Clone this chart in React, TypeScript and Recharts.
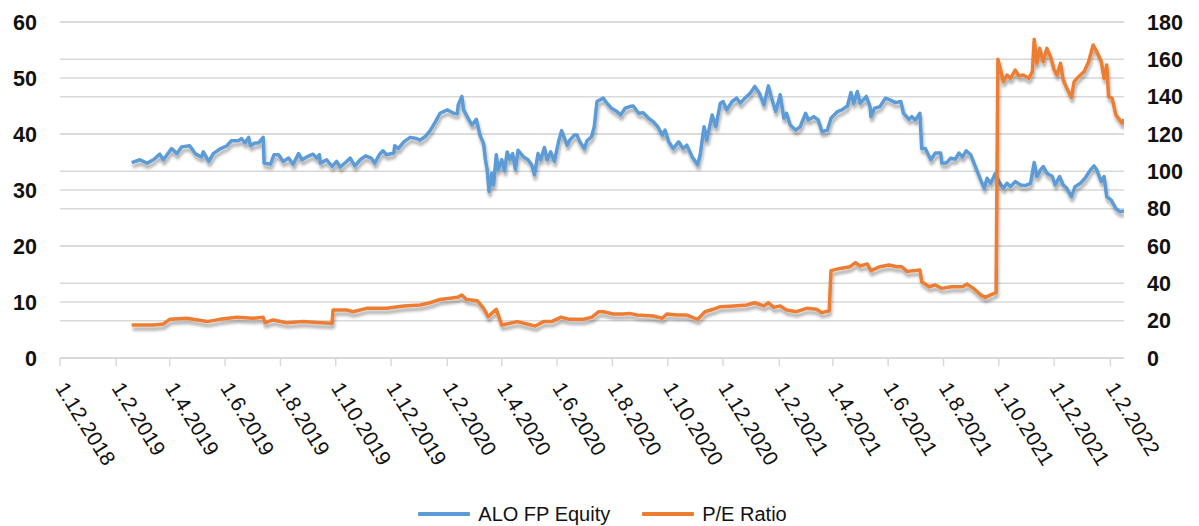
import React from 'react';
import { LineChart, Line, XAxis, YAxis, CartesianGrid, Legend } from 'recharts';

// X-axis tick labels (every second month)
const tickLabels = [
  '1.12.2018', '1.2.2019', '1.4.2019', '1.6.2019', '1.8.2019', '1.10.2019', '1.12.2019',
  '1.2.2020', '1.4.2020', '1.6.2020', '1.8.2020', '1.10.2020', '1.12.2020',
  '1.2.2021', '1.4.2021', '1.6.2021', '1.8.2021', '1.10.2021', '1.12.2021', '1.2.2022',
];
const leftTicks = [0, 10, 20, 30, 40, 50, 60];
const rightTicks = [0, 20, 40, 60, 80, 100, 120, 140, 160, 180];
const domainStart = '2018-12-01';
const domainEnd = '2022-02-16';

// ALO FP Equity (left axis)
const equityDates = [
  '2019-02-18','2019-02-27','2019-03-07','2019-03-14','2019-03-21','2019-03-25','2019-04-03','2019-04-09','2019-04-14','2019-04-23',
  '2019-04-29','2019-05-06','2019-05-08','2019-05-14','2019-05-19','2019-05-26','2019-06-03','2019-06-08','2019-06-16','2019-06-19',
  '2019-06-23','2019-06-27','2019-06-29','2019-07-04','2019-07-08','2019-07-13','2019-07-14','2019-07-21','2019-07-25','2019-07-30',
  '2019-08-04','2019-08-10','2019-08-15','2019-08-21','2019-08-25','2019-08-30','2019-09-06','2019-09-10','2019-09-13','2019-09-14',
  '2019-09-21','2019-09-27','2019-10-02','2019-10-06','2019-10-13','2019-10-17','2019-10-22','2019-10-28','2019-11-03','2019-11-09',
  '2019-11-13','2019-11-18','2019-11-22','2019-11-26','2019-12-04','2019-12-05','2019-12-09','2019-12-15','2019-12-22','2019-12-29',
  '2020-01-02','2020-01-08','2020-01-13','2020-01-19','2020-01-24','2020-02-01','2020-02-08','2020-02-12','2020-02-13','2020-02-17',
  '2020-02-19','2020-02-24','2020-02-28','2020-03-04','2020-03-08','2020-03-12','2020-03-14','2020-03-16','2020-03-18','2020-03-21',
  '2020-03-23','2020-03-26','2020-03-28','2020-04-01','2020-04-04','2020-04-07','2020-04-10','2020-04-13','2020-04-16','2020-04-19',
  '2020-04-25','2020-04-30','2020-05-04','2020-05-07','2020-05-11','2020-05-14','2020-05-18','2020-05-21','2020-05-25','2020-05-29',
  '2020-06-03','2020-06-06','2020-06-12','2020-06-15','2020-06-20','2020-06-23','2020-06-26','2020-07-01','2020-07-04','2020-07-09',
  '2020-07-12','2020-07-15','2020-07-22','2020-07-26','2020-07-31','2020-08-06','2020-08-10','2020-08-15','2020-08-20','2020-08-24',
  '2020-08-30','2020-09-04','2020-09-10','2020-09-15','2020-09-20','2020-09-25','2020-09-28','2020-10-02','2020-10-07','2020-10-13',
  '2020-10-18','2020-10-22','2020-10-28','2020-11-03','2020-11-06','2020-11-10','2020-11-13','2020-11-19','2020-11-23','2020-11-28',
  '2020-12-01','2020-12-05','2020-12-11','2020-12-16','2020-12-20','2020-12-25','2020-12-31','2021-01-05','2021-01-10','2021-01-15',
  '2021-01-20','2021-01-24','2021-01-28','2021-02-02','2021-02-06','2021-02-09','2021-02-13','2021-02-19','2021-02-24','2021-03-02',
  '2021-03-05','2021-03-11','2021-03-16','2021-03-20','2021-03-26','2021-03-30','2021-04-06','2021-04-11','2021-04-17','2021-04-21',
  '2021-04-24','2021-04-28','2021-05-01','2021-05-08','2021-05-12','2021-05-13','2021-05-17','2021-05-23','2021-05-29','2021-06-03',
  '2021-06-09','2021-06-15','2021-06-18','2021-06-24','2021-06-27','2021-07-01','2021-07-06','2021-07-08','2021-07-12','2021-07-18',
  '2021-07-23','2021-07-29','2021-07-30','2021-08-04','2021-08-09','2021-08-14','2021-08-18','2021-08-22','2021-08-26','2021-08-31',
  '2021-09-05','2021-09-11','2021-09-15','2021-09-18','2021-09-22','2021-09-27','2021-10-01','2021-10-06','2021-10-10','2021-10-14',
  '2021-10-19','2021-10-25','2021-10-30','2021-11-05','2021-11-09','2021-11-12','2021-11-16','2021-11-19','2021-11-23','2021-11-29',
  '2021-12-02','2021-12-07','2021-12-11','2021-12-15','2021-12-20','2021-12-24','2021-12-30','2022-01-04','2022-01-10','2022-01-14',
  '2022-01-17','2022-01-22','2022-01-25','2022-01-28','2022-02-02','2022-02-07','2022-02-12','2022-02-16',
];
const equityValues = [
  34.9,35.4,34.8,35.4,36.4,35.4,37.4,36.5,37.7,37.9,
  36.5,35.9,36.8,35.1,36.5,37.3,37.9,38.8,38.8,39.2,
  38.4,39.4,37.9,38.4,38.4,39.4,34.8,34.6,36.3,36.3,
  35.1,35.7,34.6,36.5,35.4,35.9,36.4,35.7,36.3,34.8,
  35.4,34.2,35.1,34.1,35.1,35.7,34.3,35.4,36.1,35.7,
  34.8,36.3,37.0,36.3,36.6,37.9,37.4,38.6,39.4,39.2,
  38.9,39.6,40.6,42.2,43.7,44.3,43.7,43.6,45.2,46.7,
  44.3,42.8,41.6,42.6,39.8,38.3,35.4,33.6,29.7,33.0,
  30.9,36.3,33.6,35.4,33.4,36.8,35.4,36.5,33.7,37.1,
  35.9,35.4,34.5,32.7,36.5,35.4,37.6,35.4,36.8,35.1,
  38.9,40.6,38.0,38.9,39.8,39.8,38.6,37.4,38.8,39.5,
  41.3,45.8,46.4,45.5,44.6,44.0,43.4,44.6,44.9,45.0,
  43.7,43.8,42.8,42.2,41.3,39.8,40.7,38.6,37.4,38.6,
  37.4,38.0,35.9,34.5,36.5,41.3,38.9,43.4,41.3,45.5,
  45.8,44.3,45.8,46.4,45.5,46.4,47.3,48.5,47.3,45.2,
  48.6,46.1,44.0,47.0,42.8,43.7,41.6,40.7,41.3,43.7,
  42.5,43.1,42.5,40.4,40.7,42.8,44.0,44.3,45.0,47.4,
  45.5,47.6,45.5,46.7,44.9,43.1,44.6,44.9,46.4,46.1,
  45.6,45.8,43.7,42.6,43.1,42.5,43.7,37.4,37.4,35.4,
  36.6,36.6,34.8,34.8,35.7,35.5,36.6,35.9,37.0,36.3,
  34.2,31.8,30.3,32.1,31.2,32.9,31.5,30.3,31.2,30.6,
  31.5,30.9,30.8,31.2,34.9,32.4,33.6,34.2,33.0,32.4,
  30.9,32.4,30.9,30.3,28.8,30.6,31.2,32.1,33.6,34.3,
  33.6,31.5,32.4,28.8,28.2,26.7,26.1,26.3,
];

// P/E Ratio (right axis)
const peDates = [
  '2019-02-18','2019-03-14','2019-03-25','2019-04-01','2019-04-20','2019-05-12','2019-05-26','2019-06-14','2019-07-02','2019-07-13',
  '2019-07-15','2019-07-24','2019-08-08','2019-08-26','2019-09-14','2019-09-27','2019-09-28','2019-10-13','2019-10-20','2019-11-04',
  '2019-11-18','2019-11-26','2019-12-15','2020-01-02','2020-01-13','2020-01-24','2020-02-04','2020-02-12','2020-02-17','2020-02-22',
  '2020-03-05','2020-03-12','2020-03-17','2020-03-21','2020-03-26','2020-03-30','2020-04-01','2020-04-10','2020-04-18','2020-04-29',
  '2020-05-08','2020-05-17','2020-05-26','2020-06-05','2020-06-15','2020-06-30','2020-07-09','2020-07-17','2020-07-22','2020-08-02',
  '2020-08-13','2020-08-20','2020-08-28','2020-09-15','2020-09-25','2020-09-30','2020-10-11','2020-10-22','2020-11-03','2020-11-11',
  '2020-11-20','2020-11-28','2020-12-13','2020-12-27','2021-01-05','2021-01-15','2021-01-20','2021-01-26','2021-02-02','2021-02-09',
  '2021-02-20','2021-03-03','2021-03-14','2021-03-20','2021-03-28','2021-03-30','2021-04-09','2021-04-20','2021-04-26','2021-05-01',
  '2021-05-09','2021-05-13','2021-05-23','2021-06-02','2021-06-11','2021-06-16','2021-06-22','2021-06-29','2021-07-06','2021-07-08',
  '2021-07-16','2021-07-23','2021-07-30','2021-08-10','2021-08-22','2021-08-27','2021-09-03','2021-09-11','2021-09-16','2021-09-22',
  '2021-09-28','2021-09-30','2021-10-03','2021-10-06','2021-10-10','2021-10-14','2021-10-19','2021-10-23','2021-10-28','2021-11-03',
  '2021-11-07','2021-11-09','2021-11-12','2021-11-15','2021-11-19','2021-11-23','2021-11-27','2021-12-01','2021-12-04','2021-12-08',
  '2021-12-11','2021-12-15','2021-12-20','2021-12-23','2021-12-28','2022-01-03','2022-01-08','2022-01-13','2022-01-17','2022-01-22',
  '2022-01-25','2022-01-28','2022-01-30','2022-02-03','2022-02-07','2022-02-10','2022-02-14','2022-02-16',
];
const peValues = [
  17.7,17.7,18.2,20.7,21.3,19.5,20.7,21.8,21.3,21.8,
  18.9,20.4,18.9,19.5,18.9,18.6,25.7,25.7,24.8,26.6,
  26.6,26.6,27.9,28.4,29.6,31.4,32.0,32.5,33.7,31.4,
  30.7,26.6,22.1,23.9,26.1,20.4,17.7,18.6,19.5,18.2,
  17.1,19.5,19.5,21.8,20.7,20.7,21.8,24.8,24.8,23.6,
  23.6,23.9,23.0,22.5,21.3,23.6,23.0,23.0,20.7,24.8,
  26.1,27.5,27.9,28.4,29.6,27.9,29.6,27.1,27.9,25.7,
  24.8,26.6,26.1,24.3,25.3,46.8,48.0,48.9,51.1,49.3,
  50.4,46.8,48.9,49.8,48.9,48.9,46.3,46.8,47.1,40.9,
  38.2,39.1,37.3,38.2,38.2,39.6,37.3,33.8,32.5,33.8,
  35.0,160.0,154.3,148.0,151.6,149.8,154.3,151.1,151.6,149.8,
  153.4,170.7,157.9,165.9,158.7,165.9,161.4,154.3,151.6,157.9,
  148.9,144.5,139.6,148.0,150.7,153.4,158.7,167.7,164.1,158.7,
  149.8,157.0,140.0,139.1,130.2,128.4,125.7,127.9,
];

const BLUE = '#5B9BD5';
const ORANGE = '#ED7D31';
const GRID = '#D9D9D9';
const FONT = '"Liberation Sans", Arial, sans-serif';

const equityData = equityDates.map((d, i) => ({ t: Date.parse(d), v: equityValues[i] }));
const peData = peDates.map((d, i) => ({ t: Date.parse(d), v: peValues[i] }));
const xTicks = tickLabels.map((s) => {
  const [d, m, y] = s.split('.').map(Number);
  return Date.UTC(y, m - 1, d);
});
const labelFor = (t: number) => tickLabels[xTicks.indexOf(t)] ?? '';

const XTick = (props: any) => {
  const { x, y, payload } = props;
  const ax = x + 1;
  const ay = y + 16;
  return (
    <text
      x={ax}
      y={ay}
      transform={`rotate(58, ${ax}, ${ay})`}
      textAnchor="start"
      dominantBaseline="central"
      fontFamily={FONT}
      fontSize={21}
      fill="#111"
    >
      {labelFor(payload.value)}
    </text>
  );
};

const LegendContent = () => {
  const items = [
    { name: 'ALO FP Equity', color: BLUE },
    { name: 'P/E Ratio', color: ORANGE },
  ];
  return (
    <div
      style={{
        display: 'flex',
        justifyContent: 'center',
        alignItems: 'center',
        height: 24,
        fontFamily: FONT,
        fontSize: 20,
        color: '#111',
        paddingLeft: 6,
      }}
    >
      {items.map((it, i) => (
        <div key={it.name} style={{ display: 'flex', alignItems: 'center', marginLeft: i === 0 ? 0 : 32 }}>
          <div style={{ width: 52, height: 3.5, background: it.color, marginRight: 8, borderRadius: 1 }} />
          <span>{it.name}</span>
        </div>
      ))}
    </div>
  );
};

export default function App() {
  return (
    <div style={{ position: 'absolute', left: 0, top: 0, width: 1199, height: 526, background: '#fff' }}>
      <LineChart width={1199} height={526} margin={{ top: 22, right: 0, left: 0, bottom: 0 }}>
        <defs>
          <filter id="lineShadow2" filterUnits="userSpaceOnUse" x="0" y="0" width="1199" height="526">
            <feGaussianBlur in="SourceAlpha" stdDeviation="1.6" />
            <feOffset dx="1" dy="3.5" />
            <feComponentTransfer>
              <feFuncA type="linear" slope="0.32" />
            </feComponentTransfer>
            <feMerge>
              <feMergeNode />
              <feMergeNode in="SourceGraphic" />
            </feMerge>
          </filter>
        </defs>
        <CartesianGrid yAxisId="left" vertical={false} stroke={GRID} strokeWidth={1.5} />
        <CartesianGrid yAxisId="right" vertical={false} stroke={GRID} strokeWidth={1.5} />
        <XAxis
          dataKey="t"
          type="number"
          domain={[Date.parse(domainStart), Date.parse(domainEnd)]}
          ticks={xTicks}
          interval={0}
          allowDataOverflow
          height={144}
          axisLine={{ stroke: GRID, strokeWidth: 1.5 }}
          tickLine={{ stroke: GRID, strokeWidth: 1.5 }}
          tickSize={8}
          tickMargin={2}
          tick={<XTick />}
        />
        <YAxis
          yAxisId="left"
          width={60}
          domain={[0, 60]}
          ticks={leftTicks}
          interval={0}
          axisLine={false}
          tickLine={false}
          tickSize={0}
          tickMargin={23}
          tick={{ fontFamily: FONT, fontSize: 21.5, fontWeight: 700, fill: '#111' }}
        />
        <YAxis
          yAxisId="right"
          orientation="right"
          width={75}
          domain={[0, 180]}
          ticks={rightTicks}
          interval={0}
          axisLine={false}
          tickLine={false}
          tickSize={0}
          tickMargin={23}
          tick={{ fontFamily: FONT, fontSize: 21.5, fontWeight: 700, fill: '#111', textAnchor: 'start' }}
        />
        <Legend verticalAlign="bottom" content={<LegendContent />} />
        <Line
          yAxisId="left"
          data={equityData}
          dataKey="v"
          name="ALO FP Equity"
          stroke={BLUE}
          strokeWidth={3.5}
          dot={false}
          isAnimationActive={false}
          strokeLinejoin="round"
          filter="url(#lineShadow2)"
        />
        <Line
          yAxisId="right"
          data={peData}
          dataKey="v"
          name="P/E Ratio"
          stroke={ORANGE}
          strokeWidth={3.5}
          dot={false}
          isAnimationActive={false}
          strokeLinejoin="round"
          filter="url(#lineShadow2)"
        />
      </LineChart>
    </div>
  );
}
